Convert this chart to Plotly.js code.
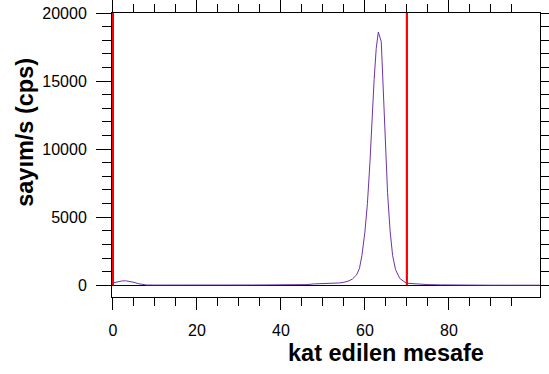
<!DOCTYPE html>
<html>
<head>
<meta charset="utf-8">
<script src="https://cdn.plot.ly/plotly-3.0.1.min.js"></script>
<style>html,body{margin:0;padding:0;background:#fff;}</style>
</head>
<body>
<div id="chart" style="width:549px;height:374px;"></div>
<script>
// distance (kat edilen mesafe) and count rate (cps)
const distance = [0, 1, 2, 3, 4, 5, 6, 7, 8, 10, 12, 15, 18, 20, 22, 25, 28, 30, 33, 36, 40, 43, 46, 48, 50, 52, 54, 55, 56, 57, 58, 58.7, 59.3, 60, 60.6, 61.2, 61.7, 62.2, 62.7, 63.2, 63.9, 64.4, 64.9, 65.4, 66.0, 66.6, 67.3, 68.3, 69.9, 71, 73, 75, 78, 80, 85, 90, 95, 101.7];
const counts   = [170, 250, 310, 330, 300, 220, 120, 50, 20, 15, 20, 10, 20, 15, 25, 15, 20, 30, 20, 25, 30, 35, 50, 100, 110, 130, 170, 220, 300, 450, 750, 1230, 2200, 3900, 6000, 9000, 12500, 15100, 17400, 18600, 17900, 14500, 10000, 6800, 4000, 2200, 1150, 500, 150, 120, 80, 50, 30, 20, 10, 5, 5, 5];

// red marker lines (region boundaries)
const markerX = [0, 70];
const markerYRange = [0, 20000];

const xMajorTicks = [0, 20, 40, 60, 80];
const xMinorTicks = [5, 10, 15, 25, 30, 35, 45, 50, 55, 65, 70, 75, 85, 90, 95];
const yMajorTicks = [0, 5000, 10000, 15000, 20000];
const yMinorTicks = [1000, 2000, 3000, 4000, 6000, 7000, 8000, 9000, 11000, 12000, 13000, 14000, 16000, 17000, 18000, 19000];

const xTitle = 'kat edilen mesafe';
const yTitle = 'sayım/s (cps)';

const traces = [];
markerX.forEach(function(mx){
  traces.push({x:[mx, mx], y:markerYRange, mode:'lines', line:{color:'#ff0000', width:2.2}, hoverinfo:'skip'});
});
traces.push({x:distance, y:counts, mode:'lines', line:{color:'#6f32a8', width:1}, hoverinfo:'skip'});

const fontFam = 'Liberation Sans, Arial, Helvetica, sans-serif';

const layout = {
  width:549, height:374,
  margin:{l:112, r:9, t:13, b:77, pad:0},
  paper_bgcolor:'#ffffff', plot_bgcolor:'#ffffff',
  showlegend:false,
  font:{family:fontFam, color:'#000'},
  xaxis:{
    range:[-0.22, 101.7], showline:true, linecolor:'#000', linewidth:1, mirror:'allticks',
    ticks:'outside', ticklen:12, tickwidth:1, tickcolor:'#000',
    tickmode:'array', tickvals:xMajorTicks, ticktext:xMajorTicks.map(String),
    minor:{tickmode:'array', tickvals:xMinorTicks, ticks:'outside', ticklen:8, tickwidth:1, tickcolor:'#000', showgrid:false},
    showgrid:false, zeroline:false, layer:'below traces',
    tickfont:{family:fontFam, size:16, color:'#000'}, ticklabelstandoff:7
  },
  yaxis:{
    range:[-862, 20000], showline:true, linecolor:'#000', linewidth:1, mirror:'allticks',
    ticks:'outside', ticklen:15, tickwidth:1, tickcolor:'#000',
    tickmode:'array', tickvals:yMajorTicks, ticktext:yMajorTicks.map(String),
    minor:{tickmode:'array', tickvals:yMinorTicks, ticks:'outside', ticklen:9, tickwidth:1, tickcolor:'#000', showgrid:false},
    showgrid:false, zeroline:true, zerolinecolor:'#000', zerolinewidth:1, layer:'below traces',
    tickfont:{family:fontFam, size:16, color:'#000'}, ticklabelstandoff:6
  },
  annotations:[
    {text:'<b>'+xTitle+'</b>', xref:'paper', yref:'paper', x:0.64, y:-0.196, xanchor:'center', yanchor:'middle', showarrow:false, font:{family:fontFam, size:23.5, color:'#000'}},
    {text:'<b>'+yTitle+'</b>', xref:'paper', yref:'paper', x:-0.205, y:0.579, xanchor:'center', yanchor:'middle', textangle:-90, showarrow:false, font:{family:fontFam, size:23.5, color:'#000'}}
  ]
};

Plotly.newPlot('chart', traces, layout, {staticPlot:true, displayModeBar:false});
</script>
</body>
</html>
